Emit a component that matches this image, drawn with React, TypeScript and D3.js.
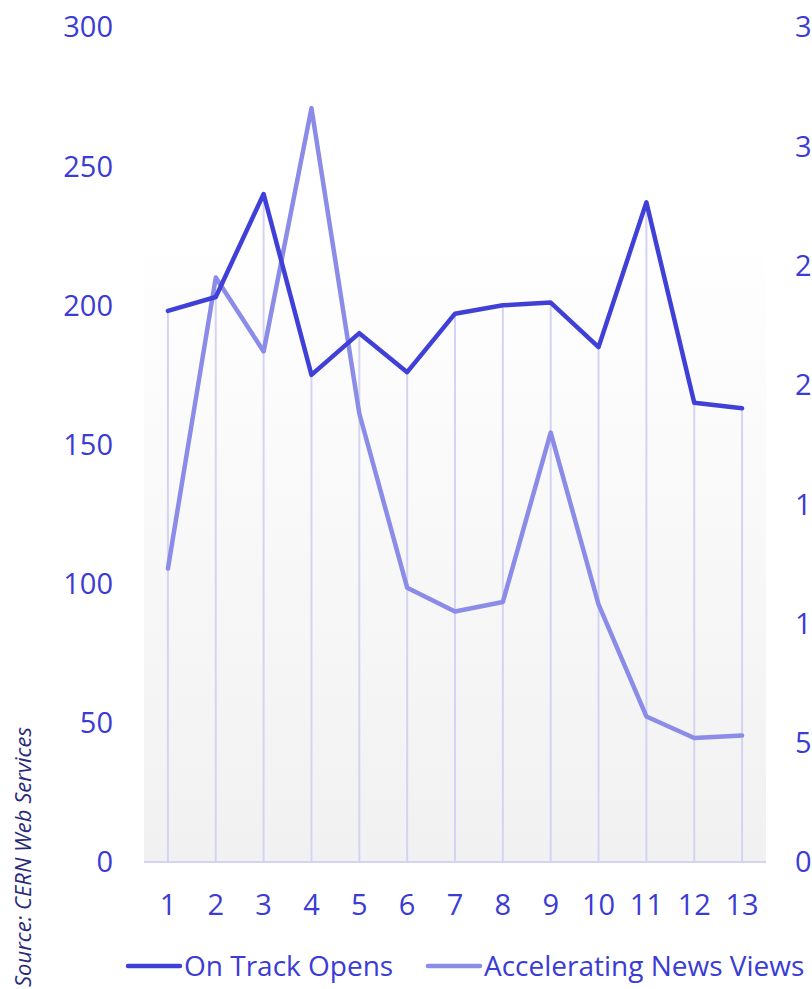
import React from 'react';
import * as d3 from 'd3';

const categories = ['1', '2', '3', '4', '5', '6', '7', '8', '9', '10', '11', '12', '13'];
const onTrackOpens = [198, 203, 240, 175, 190, 176, 197, 200, 201, 185, 237, 165, 163];
const newsViews = [123, 245, 214, 316, 188, 115, 105, 109, 180, 108, 61, 52, 53];
const leftTicks = [0, 50, 100, 150, 200, 250, 300];
const rightTicks = [0, 50, 100, 150, 200, 250, 300, 350];

const W = 812;
const H = 989;
const FONT = "'Open Sans', sans-serif";
const DARK = '#4040d8';
const LIGHT = '#8b8be8';
const TEXT = '#3b3bd6';

const App = () => {
    const x = d3.scalePoint<string>().domain(categories).range([144, 766]).padding(0.5);
    const yLeft = d3.scaleLinear().domain([0, 300]).range([862, 27]);
    const yRight = d3.scaleLinear().domain([0, 350]).range([862, 27]);

    const lineLeft = d3.line<number>()
        .x((_, i) => x(categories[i]) as number)
        .y(d => yLeft(d));
    const lineRight = d3.line<number>()
        .x((_, i) => x(categories[i]) as number)
        .y(d => yRight(d));

    return (
        <svg width={W} height={H} style={{ position: 'absolute', left: 0, top: 0 }} fontFamily={FONT}>
            <defs>
                <linearGradient id="bg" x1="0" y1="0" x2="0" y2="1">
                    <stop offset="0%" stopColor="#ffffff" />
                    <stop offset="100%" stopColor="#f1f1f1" />
                </linearGradient>
            </defs>
            <rect x={144} y={yLeft(228)} width={622} height={862 - yLeft(228)} fill="url(#bg)" />

            {/* drop lines from the opens series */}
            {categories.map((c, i) => (
                <line key={'d' + c} x1={x(c)} x2={x(c)} y1={yLeft(onTrackOpens[i])} y2={862}
                    stroke="#d4d4f2" strokeWidth={2} />
            ))}
            <line x1={144} x2={766} y1={862} y2={862} stroke="#d4d4f2" strokeWidth={2} />

            <path d={lineRight(newsViews) || ''} fill="none" stroke={LIGHT} strokeWidth={4.5}
                strokeLinejoin="round" strokeLinecap="round" />
            <path d={lineLeft(onTrackOpens) || ''} fill="none" stroke={DARK} strokeWidth={4.5}
                strokeLinejoin="round" strokeLinecap="round" />

            {leftTicks.map(t => (
                <text key={'l' + t} x={113} y={yLeft(t)} dy="0.36em" textAnchor="end"
                    fontSize={29} fill={TEXT}>{t}</text>
            ))}
            {rightTicks.map(t => (
                <text key={'r' + t} x={795} y={yRight(t)} dy="0.36em" textAnchor="start"
                    fontSize={29} fill={TEXT}>{t}</text>
            ))}
            {categories.map(c => (
                <text key={'x' + c} x={x(c)} y={905} dy="0.36em" textAnchor="middle"
                    fontSize={29} fill={TEXT}>{c}</text>
            ))}

            <text transform="translate(31,987) rotate(-90)" fontSize={22} fontStyle="italic"
                fill="#2a2a7a">Source: CERN Web Services</text>

            <line x1={128} x2={180} y1={966} y2={966} stroke={DARK} strokeWidth={4.5} strokeLinecap="round" />
            <text x={184} y={966} dy="0.36em" fontSize={28} fill={TEXT}>On Track Opens</text>
            <line x1={428} x2={480} y1={966} y2={966} stroke={LIGHT} strokeWidth={4.5} strokeLinecap="round" />
            <text x={484} y={966} dy="0.36em" fontSize={28} fill={TEXT}>Accelerating News Views</text>
        </svg>
    );
};

export default App;
